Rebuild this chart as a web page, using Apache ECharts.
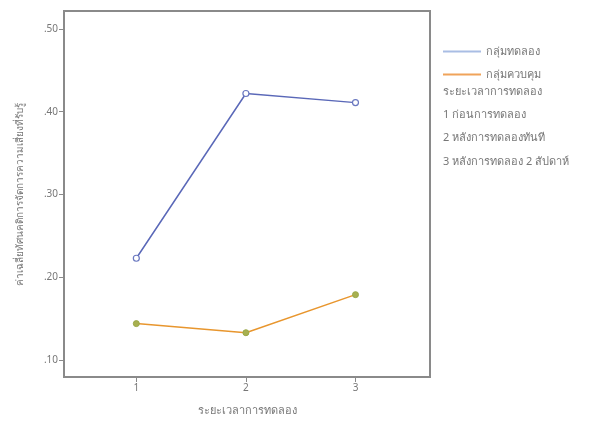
<!DOCTYPE html>
<html><head><meta charset="utf-8">
<script src="https://cdn.jsdelivr.net/npm/echarts@6/dist/echarts.min.js"></script>
<style>html,body{margin:0;padding:0;background:#fff}#c{width:592px;height:425px}</style>
</head><body><div id="c"></div>
<script>
const xValues = [1, 2, 3];
const xTicks = [1, 2, 3];
const yTicks = [0.1, 0.2, 0.3, 0.4, 0.5];
const seriesNames = ['กลุ่มทดลอง', 'กลุ่มควบคุม'];
const experimental = [0.223, 0.422, 0.411];
const control = [0.144, 0.133, 0.179];
const noteLines = ['ระยะเวลาการทดลอง', '1 ก่อนการทดลอง', '2 หลังการทดลองทันที', '3 หลังการทดลอง 2 สัปดาห์'];
const xTitle = 'ระยะเวลาการทดลอง';
const yTitle = 'ค่าเฉลี่ยทัศนคติการจัดการความเสี่ยงที่รับรู้';

const font = '"Noto Sans", "DejaVu Sans", sans-serif';
const chart = echarts.init(document.getElementById('c'), null, {renderer: 'canvas'});
const pair = (ys, marker) => xValues.map((x, i) => ({value: [x, ys[i]], itemStyle: marker}));

chart.setOption({
  animation: false,
  backgroundColor: '#fff',
  grid: {left: 64, top: 11, right: 162, bottom: 48, show: true, borderColor: '#8a8a8a', borderWidth: 2, backgroundColor: 'transparent'},
  legend: {
    left: 438, top: 41, orient: 'vertical', itemGap: 12,
    itemWidth: 38, itemHeight: 2, icon: 'rect',
    textStyle: {fontFamily: font, fontSize: 11, color: '#777'},
    data: seriesNames
  },
  graphic: noteLines.map((t, i) => ({
    type: 'text', left: 443, top: 86 + i * 23.3,
    style: {text: t, fontFamily: font, fontSize: 11, fill: '#777'}
  })),
  xAxis: {
    type: 'value', min: 0.34, max: 3.68,
    name: xTitle, nameLocation: 'middle', nameGap: 28,
    nameTextStyle: {fontFamily: font, fontSize: 11, color: '#777'},
    axisLine: {show: true, lineStyle: {color: '#8a8a8a', width: 2}},
    axisTick: {show: true, length: 5, lineStyle: {color: '#8a8a8a'}, customValues: xTicks},
    axisLabel: {customValues: xTicks, fontFamily: font, fontSize: 10, color: '#777', margin: 6, formatter: v => String(v)},
    splitLine: {show: false}
  },
  yAxis: {
    type: 'value', min: 0.0795, max: 0.5217,
    name: yTitle, nameLocation: 'middle', nameGap: 39,
    nameTextStyle: {fontFamily: font, fontSize: 10, color: '#777'},
    axisLine: {show: true, lineStyle: {color: '#8a8a8a', width: 2}},
    axisTick: {show: true, length: 5, lineStyle: {color: '#8a8a8a'}, customValues: yTicks},
    axisLabel: {customValues: yTicks, fontFamily: font, fontSize: 10, color: '#777', margin: 6,
      formatter: v => '.' + Math.round(v * 100).toString().padStart(2, '0')},
    splitLine: {show: false}
  },
  series: [
    {name: seriesNames[0], type: 'line',
      data: pair(experimental, {color: '#fff', borderColor: '#6a78c0', borderWidth: 1.2}),
      lineStyle: {color: '#5a68b8', width: 1.5}, itemStyle: {color: '#a9bde4'},
      symbol: 'circle', symbolSize: 6, showSymbol: true},
    {name: seriesNames[1], type: 'line',
      data: pair(control, {color: '#a8b050', borderColor: '#9aa848', borderWidth: 1}),
      lineStyle: {color: '#e8962e', width: 1.5}, itemStyle: {color: '#f0a35a'},
      symbol: 'circle', symbolSize: 6, showSymbol: true}
  ]
});
</script></body></html>
